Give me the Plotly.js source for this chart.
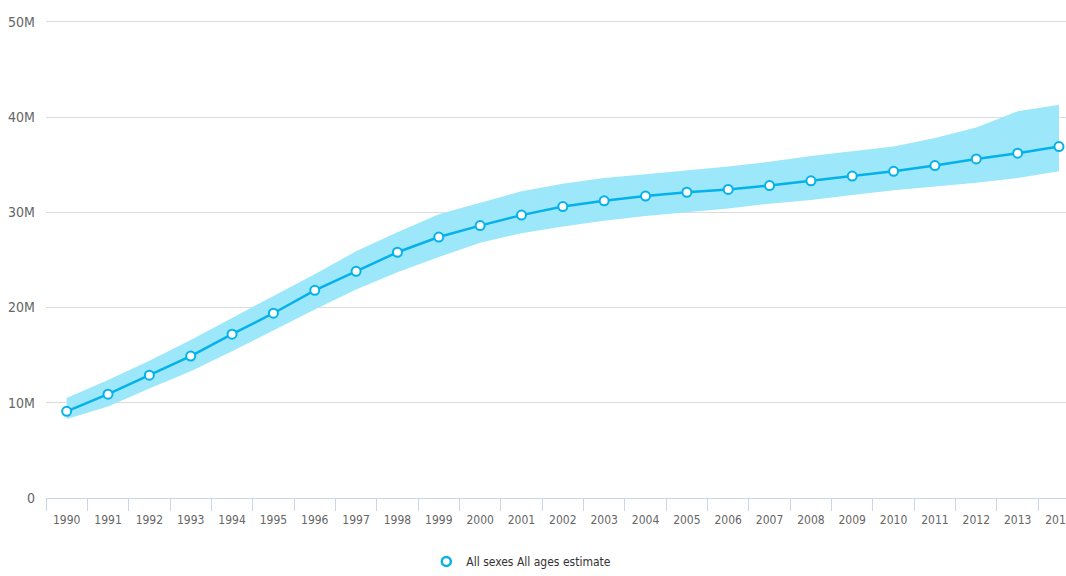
<!DOCTYPE html>
<html>
<head>
<meta charset="utf-8">
<script src="https://cdn.plot.ly/plotly-3.0.1.min.js"></script>
<style>
html,body{margin:0;padding:0;background:#fff;}
#chart{width:1066px;height:576px;}
</style>
</head>
<body>
<div id="chart"></div>
<script>
const years = ["1990","1991","1992","1993","1994","1995","1996","1997","1998","1999","2000","2001","2002","2003","2004","2005","2006","2007","2008","2009","2010","2011","2012","2013","2014"];
const estimate = [9.1,10.9,12.9,14.9,17.2,19.4,21.8,23.8,25.8,27.4,28.6,29.7,30.6,31.2,31.7,32.1,32.4,32.8,33.3,33.8,34.3,34.9,35.6,36.2,36.9].map(v=>v*1e6);
const upper = [10.5,12.4,14.4,16.6,18.9,21.2,23.5,25.9,27.9,29.8,31.0,32.2,33.0,33.6,34.0,34.4,34.8,35.3,35.9,36.4,36.9,37.8,38.9,40.6,41.3].map(v=>v*1e6);
const lower = [8.3,9.6,11.5,13.3,15.4,17.6,19.8,21.9,23.7,25.3,26.8,27.8,28.5,29.1,29.6,30.0,30.4,30.9,31.3,31.8,32.3,32.7,33.1,33.6,34.3].map(v=>v*1e6);
const yTickVals = [0,10e6,20e6,30e6,40e6,50e6];
const yTickText = ["0","10M","20M","30M","40M","50M"];
const seriesName = "All sexes All ages estimate";

const lineColor = "#05b1ea";
const bandColor = "#9ce7f9";
const font = "'DejaVu Sans Condensed','Liberation Sans Narrow',Arial,sans-serif";

const traces = [
  {x: years, y: lower, type:"scatter", mode:"lines", line:{width:0, color:bandColor}, showlegend:false, hoverinfo:"skip"},
  {x: years, y: upper, type:"scatter", mode:"lines", line:{width:0, color:bandColor}, fill:"tonexty", fillcolor:bandColor, showlegend:false, hoverinfo:"skip"},
  {x: years, y: estimate, type:"scatter", mode:"lines+markers", name: seriesName, showlegend:false,
   line:{color:lineColor, width:2.5},
   marker:{symbol:"circle", size:9, color:"#ffffff", line:{color:lineColor, width:2}}},
  {x:[null], y:[null], type:"scatter", mode:"markers", name: seriesName, showlegend:true,
   marker:{symbol:"circle", size:9, color:"#ffffff", line:{color:lineColor, width:2.5}}}
];

const layout = {
  width:1066, height:576,
  margin:{l:46, r:0, t:17, b:78},
  paper_bgcolor:"#ffffff", plot_bgcolor:"#ffffff",
  font:{family:font, size:12, color:"#555"},
  showlegend:true,
  legend:{orientation:"h", x:0.466, xanchor:"center", yref:"container", y:0, yanchor:"bottom",
          font:{family:font, size:12, color:"#333"}, itemwidth:30, bgcolor:"rgba(0,0,0,0)"},
  xaxis:{type:"category", range:[-0.5, 24.17], showgrid:false, showline:true, linecolor:"#c8d6e6", linewidth:1,
         ticks:"outside", tickson:"boundaries", ticklen:12, tickcolor:"#c8d6e6", tickwidth:1, ticklabelstandoff:11,
         tickfont:{family:font, size:12, color:"#666"}, zeroline:false, fixedrange:true, automargin:false},
  yaxis:{range:[0, 50.5e6], tickvals:yTickVals, ticktext:yTickText, showgrid:true, gridcolor:"#dcdcdc", gridwidth:1,
         zeroline:false, showline:false, ticks:"", ticklabelstandoff:10, automargin:false,
         tickfont:{family:font, size:14, color:"#666"}, fixedrange:true}
};

Plotly.newPlot("chart", traces, layout, {displayModeBar:false, staticPlot:true});
</script>
</body>
</html>
